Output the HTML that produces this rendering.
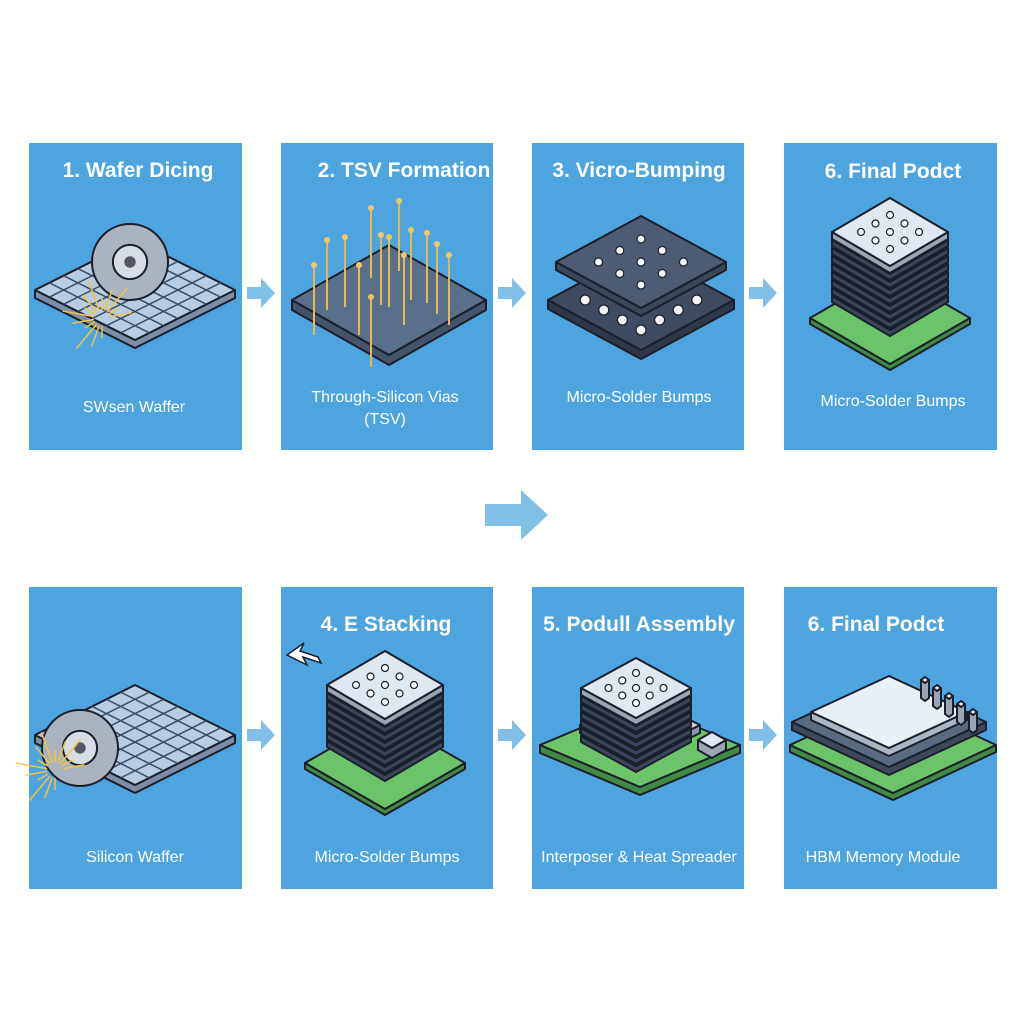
<!DOCTYPE html>
<html><head><meta charset="utf-8"><style>
html,body{margin:0;padding:0;background:#fff;width:1024px;height:1024px;overflow:hidden}
svg{display:block}
text{font-family:"Liberation Sans","DejaVu Sans",sans-serif;fill:#fff}
.t{font-size:21px;font-weight:bold}
.s{font-size:16px}
</style></head><body>
<svg id="s" width="1024" height="1024" viewBox="0 0 1024 1024" xmlns="http://www.w3.org/2000/svg">
<g fill="#4ea4df">
<rect x="29" y="143" width="213" height="307"/>
<rect x="281" y="143" width="212" height="307"/>
<rect x="532" y="143" width="212" height="307"/>
<rect x="784" y="143" width="213" height="307"/>
<rect x="29" y="587" width="213" height="302"/>
<rect x="281" y="587" width="212" height="302"/>
<rect x="532" y="587" width="212" height="302"/>
<rect x="784" y="587" width="213" height="302"/>
</g>
<g fill="#7fbfe8">
<path d="M247 287h14v-9l14 15-14 15v-9h-14z"/>
<path d="M498 287h14v-9l14 15-14 15v-9h-14z"/>
<path d="M749 287h14v-9l14 15-14 15v-9h-14z"/>
<path d="M247 729h14v-9l14 15-14 15v-9h-14z"/>
<path d="M498 729h14v-9l14 15-14 15v-9h-14z"/>
<path d="M749 729h14v-9l14 15-14 15v-9h-14z"/>
<path d="M485 504h36v-14l27 25-27 25v-14h-36z"/>
</g>
<g id="ill"></g>
<g text-anchor="middle">
<text class="t" x="138" y="177">1. Wafer Dicing</text>
<text class="t" x="404" y="177">2. TSV Formation</text>
<text class="t" x="639" y="177">3. Vicro-Bumping</text>
<text class="t" x="893" y="178">6. Final Podct</text>
<text class="t" x="386" y="631">4. E Stacking</text>
<text class="t" x="639" y="631">5. Podull Assembly</text>
<text class="t" x="876" y="631">6. Final Podct</text>
<text class="s" x="134" y="412">SWsen Waffer</text>
<text class="s" x="385" y="402">Through-Silicon Vias</text>
<text class="s" x="385" y="424">(TSV)</text>
<text class="s" x="639" y="402">Micro-Solder Bumps</text>
<text class="s" x="893" y="406">Micro-Solder Bumps</text>
<text class="s" x="135" y="862">Silicon Waffer</text>
<text class="s" x="387" y="862">Micro-Solder Bumps</text>
<text class="s" x="639" y="862">Interposer &amp; Heat Spreader</text>
<text class="s" x="883" y="862">HBM Memory Module</text>
</g>
</svg>
<script>
var g=document.getElementById('ill'),h='';
function P(pts,f,sw){h+='<polygon points="'+pts.map(p=>p.join(',')).join(' ')+'" fill="'+f+'" stroke="#1a1f2a" stroke-width="'+(sw||2)+'" stroke-linejoin="round"/>';}
function plate(cx,cy,w,hh,t,top,side){
 P([[cx-w,cy],[cx,cy+hh],[cx+w,cy],[cx+w,cy+t],[cx,cy+hh+t],[cx-w,cy+t]],side);
 P([[cx-w,cy],[cx,cy-hh],[cx+w,cy],[cx,cy+hh]],top);}
function dots(cx,cy,w,hh,n,r,f){for(var i=1;i<=n;i++)for(var j=1;j<=n;j++){var u=i/(n+1)-.5,v=j/(n+1)-.5;
 var x=cx+(u-v)*w,y=cy+(u+v)*hh;h+='<circle cx="'+x+'" cy="'+y+'" r="'+r+'" fill="'+f+'" stroke="#1a1f2a" stroke-width="1.2"/>';}}
function grid(cx,cy,w,hh,n){for(var i=1;i<n;i++){var u=i/n;
 h+='<line x1="'+(cx-w+u*w)+'" y1="'+(cy-u*hh)+'" x2="'+(cx+u*w)+'" y2="'+(cy+hh-u*hh)+'" stroke="#3a4d66" stroke-width="1.5"/>';
 h+='<line x1="'+(cx-w+u*w)+'" y1="'+(cy+u*hh)+'" x2="'+(cx+u*w)+'" y2="'+(cy-hh+u*hh)+'" stroke="#3a4d66" stroke-width="1.5"/>';}}
function saw(x,y,r){h+='<circle cx="'+x+'" cy="'+y+'" r="'+r+'" fill="#aab4c0" stroke="#1a1f2a" stroke-width="2"/><circle cx="'+x+'" cy="'+y+'" r="'+(r*.45)+'" fill="#d6dde4" stroke="#1a1f2a" stroke-width="2"/><circle cx="'+x+'" cy="'+y+'" r="'+(r*.15)+'" fill="#556" />';}
function sparks(x,y){for(var i=0;i<14;i++){var a=Math.PI*(.5+i/9),l=20+(i%3)*10;h+='<line x1="'+(x+Math.cos(a)*8)+'" y1="'+(y+Math.sin(a)*8)+'" x2="'+(x+Math.cos(a)*l)+'" y2="'+(y+Math.sin(a)*l)+'" stroke="#f4c542" stroke-width="1.5"/>';}}
function stack(cx,cy,n,w,hh,board){ if(board)plate(cx,cy+n*8+22,w+22,hh+12,6,'#6cc46a','#3f8a45');
 for(var i=n;i>=1;i--)plate(cx,cy+i*8,w,hh,6,'#4d5b73','#3a465a');
 plate(cx,cy,w,hh,7,'#dfe8f0','#9aa6b4');dots(cx,cy,w,hh,3,3.5,'#fff');}
// panel1
plate(135,290,100,50,8,'#b9cde2','#7d8ea6');grid(135,290,100,50,7);saw(130,262,38);sparks(102,318);
// panel2
plate(389,300,97,55,10,'#5a6f8a','#44546b');
[[-75,20],[-62,-5],[-44,-8],[-30,20],[-18,-37],[-8,-10],[0,-8],[10,-44],[15,10],[22,-15],[38,-12],[48,-1],[60,10],[-18,52]].forEach(function(p){var x=389+p[0],y=205+p[1]+40;h+='<line x1="'+x+'" y1="'+y+'" x2="'+x+'" y2="'+(y+70)+'" stroke="#e6b957" stroke-width="2"/><circle cx="'+x+'" cy="'+y+'" r="3" fill="#f2c866"/>';});
// panel3
plate(641,300,93,50,9,'#3f4b60','#2e384a');dots(641,300,93,50,4,5,'#f4f4f4');plate(641,262,85,46,8,'#4d5b73','#3a465a');dots(641,262,85,46,3,4,'#fff');
// panel4 top
stack(890,232,8,58,34,true);
// bottom panel1
plate(135,735,100,50,8,'#b9cde2','#7d8ea6');grid(135,735,100,50,7);saw(80,748,38);sparks(55,770);
// bottom panel2
stack(385,685,7,58,34,true);h+='<path d="M287 655l20 10-4-8 18 6-3-6-18-6 4-8z" fill="#fff" stroke="#1a1f2a" stroke-width="1.5"/>';
// bottom panel3
plate(640,745,100,42,8,'#6cc46a','#3f8a45');plate(640,725,60,30,8,'#c9d3de','#8996a8');
for(var i=6;i>=1;i--)plate(636,688+i*8,55,30,6,'#4d5b73','#3a465a');plate(636,688,55,30,7,'#dfe8f0','#9aa6b4');dots(636,688,55,30,3,3.5,'#fff');
plate(712,740,14,8,10,'#dfe8f0','#9aa6b4');
// bottom panel4
plate(893,745,103,48,7,'#6cc46a','#3f8a45');plate(889,722,97,45,8,'#5a6a80','#3e4a5c');plate(889,712,78,36,8,'#e8f0f6','#aab6c4');
for(var k=0;k<5;k++){plate(925+k*12,680+k*8,4,3,18,'#e0e6ee','#9aa6b4');}
g.innerHTML=h;
</script>
</body></html>
